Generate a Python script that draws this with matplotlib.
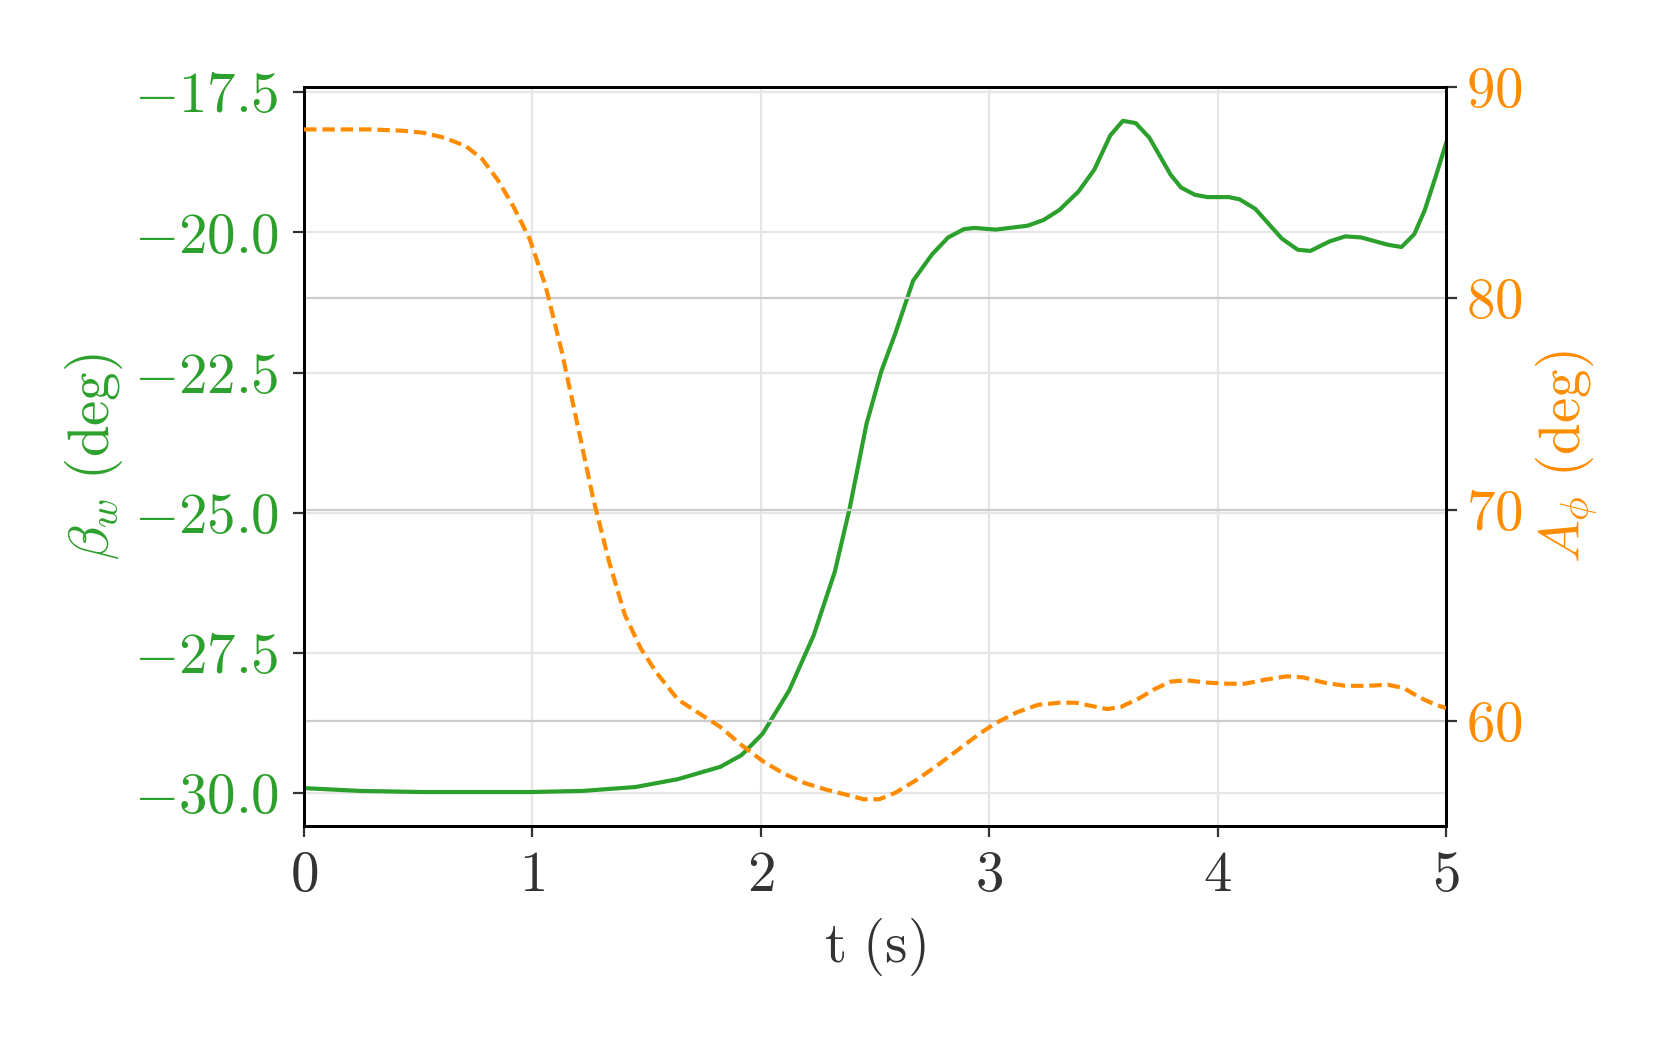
import matplotlib
matplotlib.use("Agg")
import matplotlib.pyplot as plt
from matplotlib.ticker import FuncFormatter

plt.rcParams['mathtext.fontset'] = 'cm'
plt.rcParams['font.family'] = 'serif'
plt.rcParams['font.serif'] = ['cmr10', 'DejaVu Serif']
plt.rcParams['axes.unicode_minus'] = False

# beta_w (deg)
t_beta = [0.0, 0.246, 0.524, 0.988, 1.220, 1.452, 1.637, 1.823, 1.916, 2.008,
          2.124, 2.231, 2.324, 2.389, 2.463, 2.528, 2.588, 2.667, 2.750, 2.820,
          2.890, 2.936, 3.029, 3.168, 3.237, 3.307, 3.391, 3.460, 3.530, 3.585,
          3.641, 3.701, 3.794, 3.840, 3.901, 3.956, 4.049, 4.096, 4.165, 4.281,
          4.351, 4.406, 4.490, 4.559, 4.629, 4.745, 4.805, 4.861, 4.907, 4.954, 5.0]
beta_w = [-29.91, -29.96, -29.98, -29.98, -29.96, -29.89, -29.75, -29.53, -29.32, -28.94,
          -28.17, -27.19, -26.05, -24.92, -23.41, -22.47, -21.81, -20.86, -20.39, -20.09,
          -19.94, -19.92, -19.95, -19.88, -19.78, -19.60, -19.27, -18.88, -18.27, -18.01,
          -18.05, -18.31, -18.97, -19.20, -19.33, -19.37, -19.37, -19.41, -19.58, -20.11,
          -20.31, -20.33, -20.16, -20.07, -20.09, -20.22, -20.26, -20.03, -19.60, -19.01, -18.41]

# A_phi (deg)
t_aphi = [0.0, 0.292, 0.431, 0.524, 0.617, 0.710, 0.780, 0.849, 0.918, 0.988,
          1.058, 1.127, 1.197, 1.266, 1.336, 1.405, 1.475, 1.545, 1.637, 1.730,
          1.823, 1.916, 2.008, 2.101, 2.194, 2.287, 2.379, 2.449, 2.519, 2.588,
          2.681, 2.774, 2.866, 2.959, 3.029, 3.122, 3.214, 3.307, 3.377, 3.446,
          3.516, 3.576, 3.655, 3.725, 3.794, 3.864, 3.956, 4.049, 4.119, 4.212,
          4.304, 4.374, 4.467, 4.559, 4.652, 4.745, 4.814, 4.884, 4.954, 5.0]
a_phi = [88.0, 88.0, 87.94, 87.84, 87.6, 87.2, 86.6, 85.6, 84.33, 82.82,
         80.57, 77.56, 74.04, 70.53, 67.52, 65.01, 63.41, 62.25, 61.0, 60.35,
         59.7, 58.84, 58.09, 57.49, 57.04, 56.73, 56.48, 56.28, 56.28, 56.58,
         57.19, 57.89, 58.64, 59.39, 59.89, 60.40, 60.75, 60.85, 60.85, 60.70,
         60.55, 60.65, 61.05, 61.5, 61.85, 61.91, 61.8, 61.75, 61.75, 61.95,
         62.1, 62.05, 61.8, 61.65, 61.65, 61.7, 61.55, 61.1, 60.75, 60.6]

green = '#2ca02c'
orange = '#ff8c00'
fs = 20.5

fig = plt.figure(figsize=(8.305, 5.19), dpi=200)
ax = fig.add_axes([0.183, 0.204, 0.6876, 0.712])
ax2 = ax.twinx()

ax.plot(t_beta, beta_w, color=green, lw=1.5, zorder=3)
ax2.plot(t_aphi, a_phi, color=orange, lw=1.5, ls=(0, (3.0, 1.4)), zorder=3)

ax.set_xlim(0, 5)
ax.set_ylim(-30.59, -17.41)
ax2.set_ylim(55, 90)
ax.set_xticks([0, 1, 2, 3, 4, 5])
ax.set_yticks([-30, -27.5, -25, -22.5, -20, -17.5])
ax2.set_yticks([60, 70, 80, 90])

ax.xaxis.set_major_formatter(FuncFormatter(lambda v, p: r'$%d$' % v))
ax.yaxis.set_major_formatter(FuncFormatter(lambda v, p: r'$%.1f$' % v))
ax2.yaxis.set_major_formatter(FuncFormatter(lambda v, p: r'$%d$' % v))

ax.grid(True, color='#e6e6e6', lw=0.8)
ax2.grid(True, axis='y', color='#cccccc', lw=0.8)
ax.set_axisbelow(True)

for a in (ax, ax2):
    for s in a.spines.values():
        s.set_color('black')
        s.set_linewidth(1.0)

ax.tick_params(axis='x', labelsize=fs, colors='#333333', length=4, width=0.8, pad=5)
ax.tick_params(axis='y', labelsize=fs, colors='#333333', labelcolor=green, length=4, width=0.8, pad=5)
ax2.tick_params(axis='y', labelsize=fs, colors='#333333', labelcolor=orange, length=4, width=0.8, pad=3)

ax.set_xlabel(r'$\mathrm{t\ (s)}$', fontsize=fs, color='#333333', labelpad=5)
ax.set_ylabel(r'$\beta_w\ \mathrm{(deg)}$', fontsize=fs, color=green, labelpad=3)
ax2.set_ylabel(r'$A_\phi\ \mathrm{(deg)}$', fontsize=fs, color=orange, labelpad=4)

fig.savefig('out.png', dpi=200)
